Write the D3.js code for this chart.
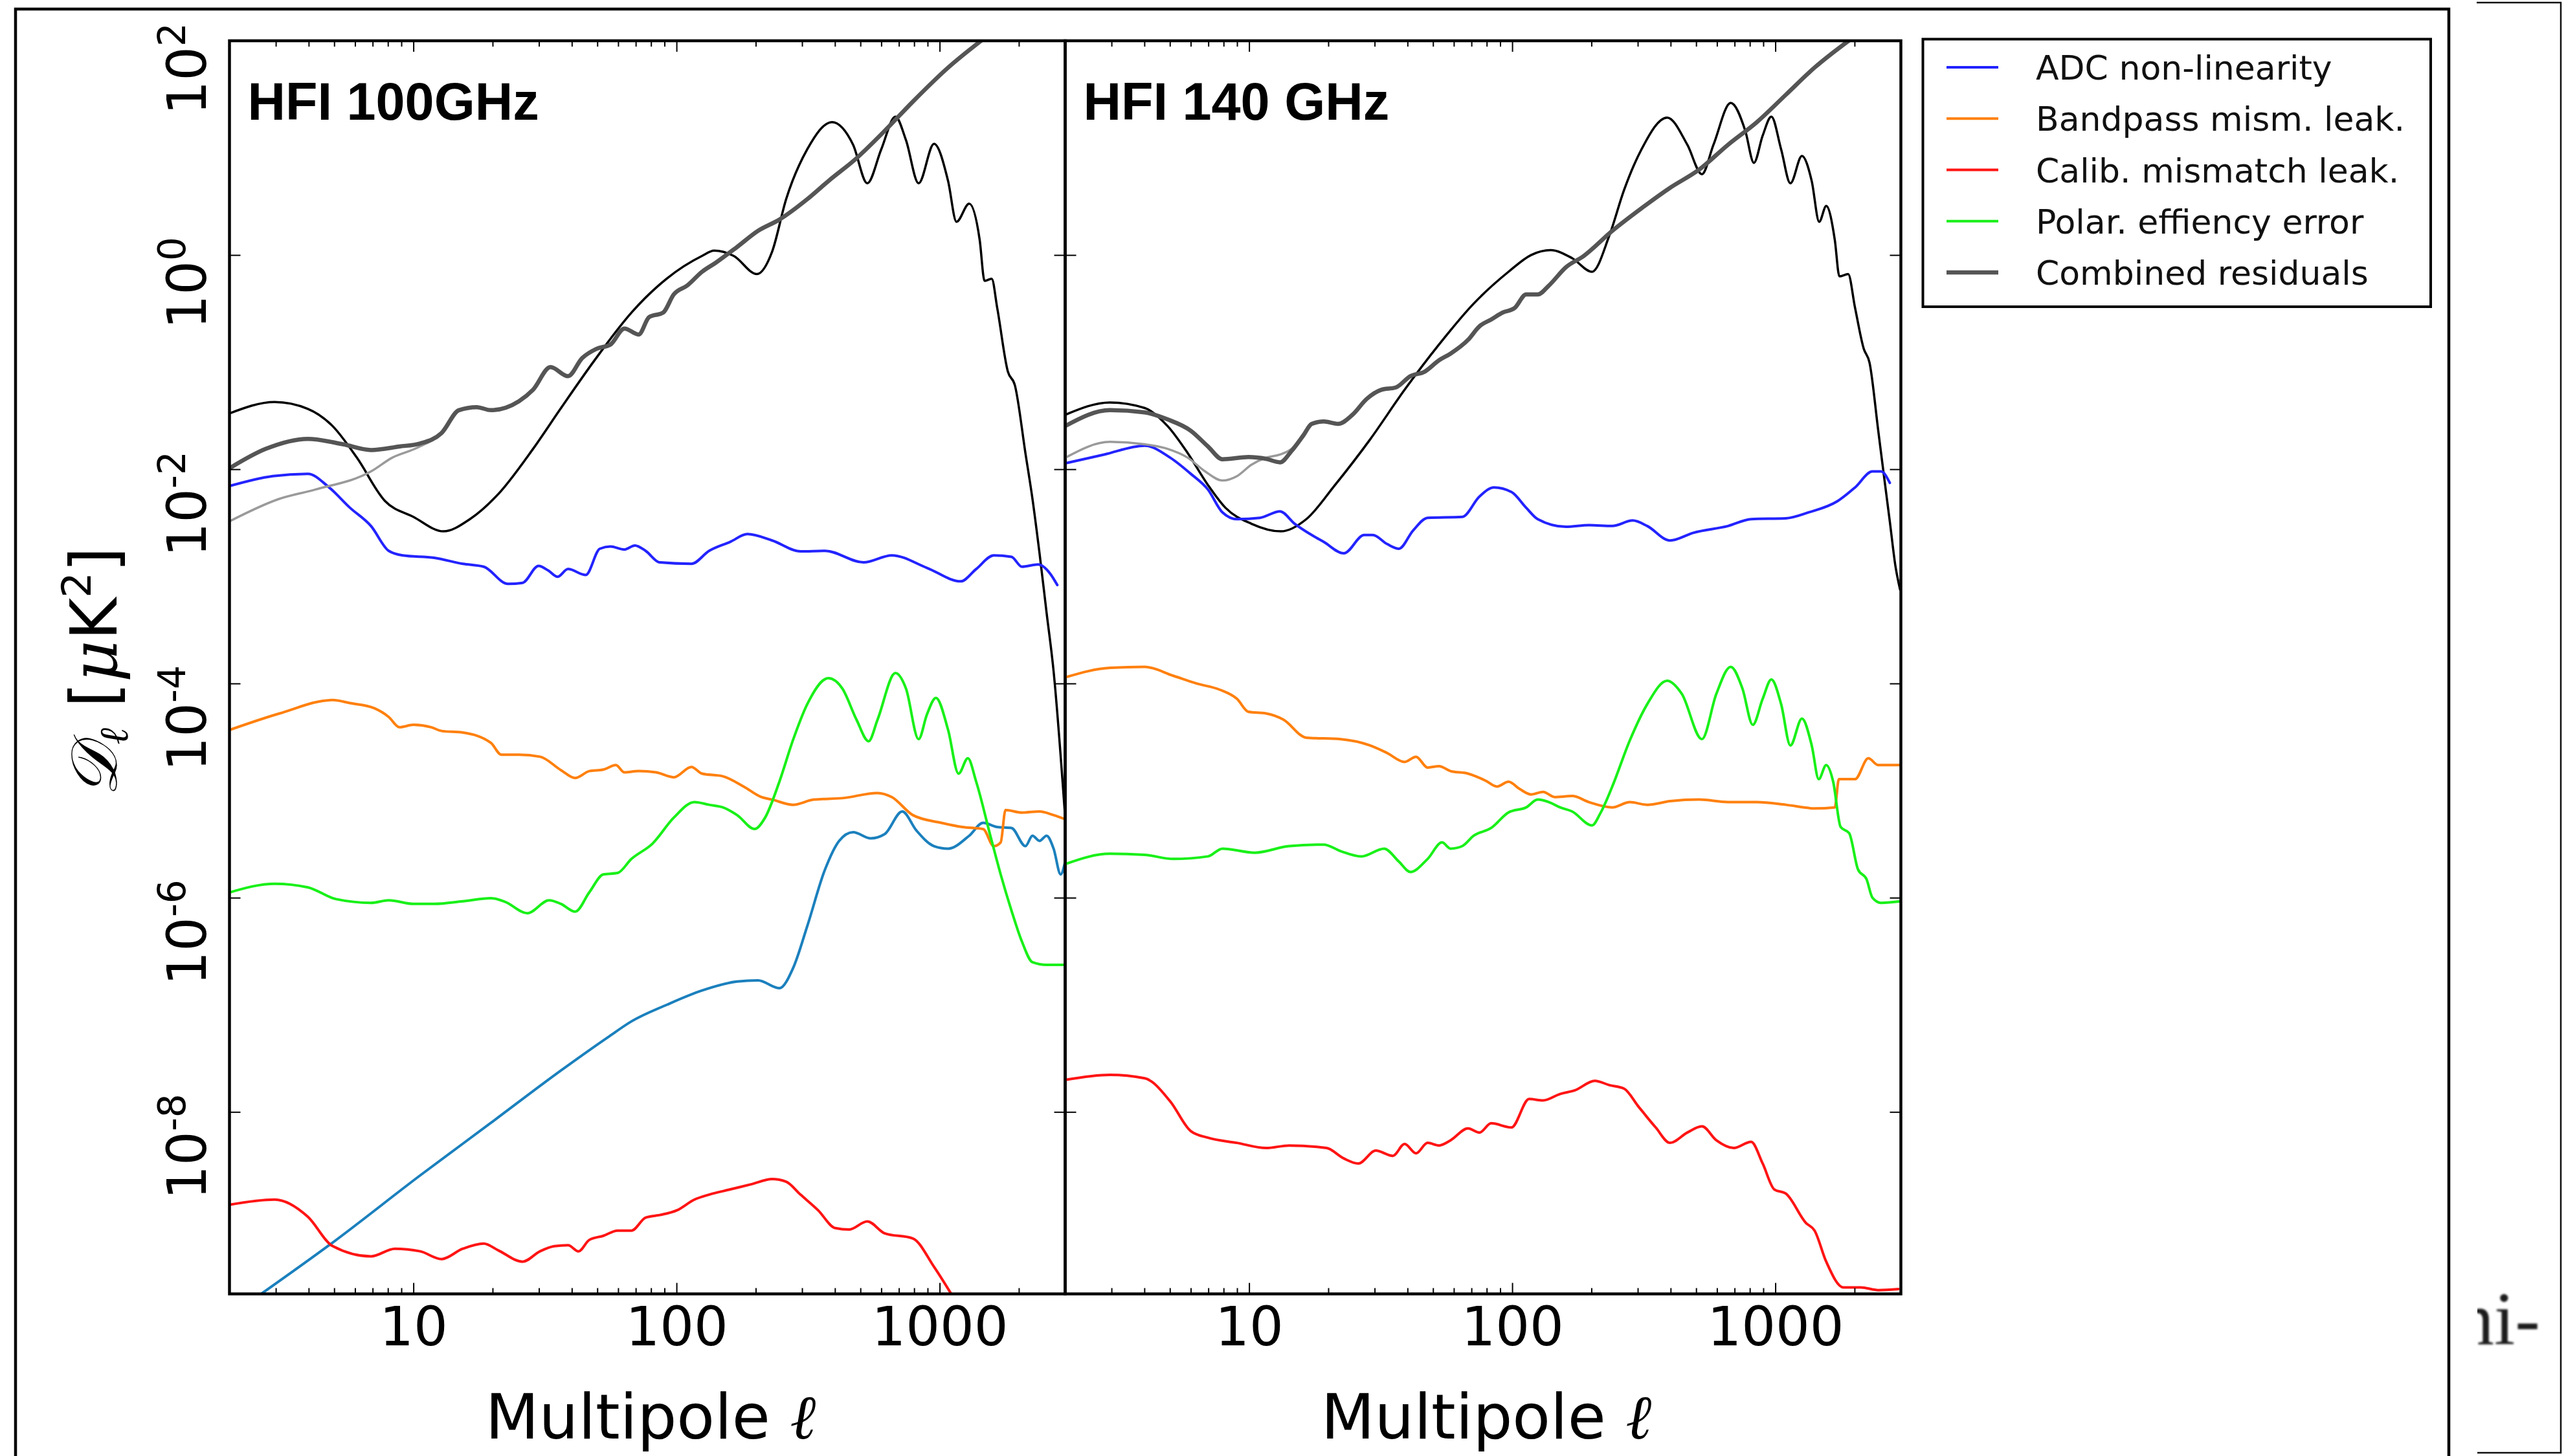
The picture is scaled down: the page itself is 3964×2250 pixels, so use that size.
<!DOCTYPE html>
<html>
<head>
<meta charset="utf-8">
<script src="https://cdn.jsdelivr.net/npm/d3@7"></script>
<style>
  html, body { margin: 0; padding: 0; background: #fff; }
  svg { display: block; }
</style>
</head>
<body>
<svg id="fig" width="3964" height="2250"></svg>
<script>
// ---------- axes ----------
const multipoleDomain = [2, 3000];
const powerDomain = [2e-10, 100];
const xTickValues = [10, 100, 1000];
const xTickLabels = ["10", "100", "1000"];
const yTickValues = [1e2, 1e0, 1e-2, 1e-4, 1e-6, 1e-8];
const yTickExponents = ["2", "0", "-2", "-4", "-6", "-8"];
const panelTitles = ["HFI 100GHz", "HFI 140 GHz"];
const xAxisTitle = "Multipole ";

// ---------- legend ----------
const legendLabels = ["ADC non-linearity", "Bandpass mism. leak.", "Calib. mismatch leak.", "Polar. effiency error", "Combined residuals"];
const legendColors = ["#2323ff", "#ff800e", "#ff1414", "#19f019", "#555555"];

// ---------- HFI 100 GHz: [multipole, D_l in uK^2] ----------
const spectrum100 = [[2,0.0332],[2.97,0.0424],[3.97,0.0366],[4.93,0.0253],[6.1,0.0128],[7.8,0.00505],[10,0.00359],[13,0.00263],[16.4,0.00342],[21,0.00585],[28.5,0.0155],[36.4,0.0373],[49.5,0.109],[67.4,0.29],[91.8,0.602],[125,0.98],[139,1.10],[165,0.98],[202,0.664],[231,1.08],[261,3.32],[314,9.7],[390,17.4],[469,10.7],[531,4.67],[600,9.7],[679,19.6],[745,11.8],[832,4.67],[952,10.9],[1077,4.9],[1159,2.04],[1295,3.01],[1420,1.38],[1482,0.573],[1577,0.60],[1656,0.319],[1817,0.0815],[1932,0.0608],[2119,0.0141],[2253,0.0053],[2397,0.00164],[2549,4.6e-4],[2711,1.3e-4],[3000,5.6e-6]];
const lensing100 = [[2.64,2.0e-10],[4.92,6.0e-10],[10.6,2.55e-9],[19.7,7.9e-9],[36.4,2.44e-8],[55,5.0e-8],[67.4,7.0e-8],[91.8,1.0e-7],[125,1.36e-7],[170,1.65e-7],[204,1.69e-7],[246,1.43e-7],[278,2.23e-7],[314,5.43e-7],[367,1.84e-6],[415,3.39e-6],[469,4.09e-6],[547,3.58e-6],[618,3.92e-6],[721,6.38e-6],[816,4.24e-6],[952,3.03e-6],[1077,2.87e-6],[1295,3.79e-6],[1464,5.0e-6],[1656,4.57e-6],[1875,4.48e-6],[2119,3.03e-6],[2253,3.79e-6],[2397,3.39e-6],[2549,3.79e-6],[2711,2.87e-6],[2884,1.65e-6],[3000,2.17e-6]];
const adc100 = [[2,0.00697],[2.92,0.00863],[3.97,0.00907],[4.78,0.00677],[5.74,0.00437],[6.9,0.00295],[8.06,0.00173],[9.1,0.00157],[12,0.00149],[15.4,0.00131],[18.5,0.00123],[22.9,0.00085],[26,0.00087],[29.9,0.00125],[32.6,0.00113],[35.3,0.00099],[38.7,0.00117],[45.2,0.00103],[51.1,0.00181],[56.1,0.0019],[63.4,0.00178],[69.5,0.00194],[76.3,0.00173],[86.3,0.00135],[114,0.00131],[133,0.00173],[160,0.0021],[186,0.00248],[231,0.00216],[296,0.00171],[367,0.00173],[514,0.00135],[658,0.00157],[895,0.0012],[1203,0.000898],[1377,0.00117],[1607,0.00157],[1875,0.00152],[2055,0.00123],[2367,0.00129],[2630,0.00106],[2800,0.00083]];
const bandpass100 = [[2,3.68e-5],[3.1,5.25e-5],[4.93,7.0e-5],[5.74,6.56e-5],[7.1,5.87e-5],[8.06,4.86e-5],[8.85,3.9e-5],[10,4.11e-5],[11.7,3.9e-5],[12.8,3.6e-5],[15.4,3.48e-5],[19.7,2.79e-5],[21.6,2.16e-5],[25.2,2.16e-5],[30.3,2.07e-5],[36.4,1.55e-5],[41.2,1.31e-5],[46.6,1.52e-5],[52.7,1.57e-5],[58.8,1.73e-5],[63.4,1.48e-5],[71.8,1.52e-5],[83.6,1.48e-5],[97.6,1.33e-5],[114,1.66e-5],[125,1.44e-5],[150,1.36e-5],[180,1.09e-5],[210,8.7e-6],[231,8.24e-6],[277,7.37e-6],[333,8.24e-6],[427,8.5e-6],[581,9.5e-6],[658,8.7e-6],[791,5.9e-6],[1014,5.0e-6],[1220,4.57e-6],[1464,4.37e-6],[1607,3.03e-6],[1706,3.28e-6],[1780,6.59e-6],[2055,6.23e-6],[2397,6.38e-6],[2711,5.9e-6],[3000,5.4e-6]];
const calib100 = [[2,1.36e-9],[2.97,1.52e-9],[3.97,1.05e-9],[4.93,5.59e-10],[6.9,4.48e-10],[8.5,5.28e-10],[10.6,5.0e-10],[12.8,4.23e-10],[15.4,5.28e-10],[18.5,5.9e-10],[21,5.11e-10],[26,4.0e-10],[30.3,5.0e-10],[34.3,5.58e-10],[38.7,5.7e-10],[42.4,5.0e-10],[46.6,6.38e-10],[52.7,6.97e-10],[59.7,7.79e-10],[67.4,7.79e-10],[76.3,1.03e-9],[86.3,1.09e-9],[100.6,1.21e-9],[117,1.52e-9],[133,1.69e-9],[160,1.89e-9],[192,2.11e-9],[231,2.36e-9],[261,2.23e-9],[296,1.69e-9],[345,1.21e-9],[401,8.23e-10],[452,7.97e-10],[531,9.5e-10],[618,7.36e-10],[791,6.59e-10],[952,3.58e-10],[1108,1.99e-10]];
const polar100 = [[2,1.12e-6],[2.97,1.35e-6],[3.97,1.25e-6],[5.08,9.7e-7],[6.9,8.95e-7],[8.06,9.46e-7],[10,8.75e-7],[12,8.75e-7],[15.4,9.25e-7],[19.7,9.89e-7],[22.3,9.15e-7],[27.1,7.16e-7],[32.8,9.46e-7],[36.4,8.75e-7],[41.2,7.4e-7],[46.6,1.12e-6],[52.7,1.65e-6],[59.7,1.7e-6],[67.4,2.3e-6],[81.1,3.2e-6],[97.6,5.58e-6],[117,7.8e-6],[133,7.37e-6],[150,6.97e-6],[170,5.9e-6],[198,4.38e-6],[217,5.58e-6],[246,1.21e-5],[277,2.95e-5],[314,6.41e-5],[378,1.12e-4],[427,8.95e-5],[483,4.6e-5],[537,2.89e-5],[581,4.6e-5],[679,1.25e-4],[745,8.95e-5],[832,3.02e-5],[895,5.14e-5],[968,7.33e-5],[1077,3.68e-5],[1180,1.44e-5],[1280,2.0e-5],[1377,1.21e-5],[1568,3.58e-6],[1706,1.65e-6],[1875,7.59e-7],[2055,3.89e-7],[2253,2.5e-7],[2549,2.36e-7],[3000,2.36e-7]];
const combinedPartial100 = [[2,0.00326],[3.1,0.0053],[4.23,0.00645],[6.9,0.00953],[8.3,0.0128],[10.3,0.0158],[12.8,0.0218],[14.9,0.0356],[17.4,0.038],[19.7,0.0356]];
const combined100 = [[2,0.0102],[2.75,0.0155],[3.97,0.0192],[5.4,0.0171],[6.9,0.0151],[8.85,0.0163],[10.6,0.0174],[12.8,0.0218],[14.9,0.0356],[17.4,0.038],[19.7,0.0356],[25.2,0.0432],[28.5,0.0552],[33.2,0.0898],[38.7,0.0739],[43.8,0.109],[49.6,0.133],[56.1,0.146],[63.4,0.206],[71.8,0.181],[78.7,0.263],[89,0.29],[97.6,0.428],[110,0.52],[125,0.697],[141,0.847],[170,1.19],[204,1.68],[246,2.14],[314,3.32],[378,4.91],[483,8.0],[618,14.4],[791,27],[1076,56],[1445,101]];

// ---------- HFI 140 GHz ----------
const spectrum140 = [[2,0.0322],[2.96,0.042],[4.01,0.0373],[4.9,0.0253],[5.85,0.0141],[6.98,0.00711],[8.13,0.00437],[10.2,0.0031],[13.2,0.00263],[16.5,0.00342],[21.2,0.00711],[28.8,0.0189],[39,0.0552],[52.7,0.146],[71.4,0.352],[96.8,0.697],[118,1.0],[140,1.11],[169,0.934],[201,0.697],[234,1.52],[266,4.03],[310,9.7],[388,19.2],[463,10.7],[526,5.68],[582,10.7],[677,26.3],[769,14.4],[829,7.25],[895,13],[966,19.6],[1052,9.7],[1141,4.67],[1262,8.4],[1375,4.9],[1468,2.04],[1561,2.87],[1683,1.38],[1752,0.632],[1891,0.664],[2010,0.319],[2168,0.133],[2280,0.099],[2461,0.0229],[2588,0.00863],[2723,0.00326],[2863,0.00123],[2980,0.00075]];
const adc140 = [[2,0.01135],[2.81,0.0137],[4.01,0.0166],[5.02,0.0128],[6.0,0.00907],[6.98,0.00645],[7.92,0.00396],[9.0,0.00342],[11.0,0.00352],[13.1,0.00404],[14.9,0.0031],[17.3,0.00243],[19.2,0.0021],[22.9,0.00164],[27.4,0.00243],[29.5,0.00243],[33.5,0.002],[37.1,0.00181],[42,0.00268],[47.7,0.00352],[64.6,0.00359],[75.1,0.00557],[85.3,0.00677],[99.3,0.00614],[113,0.00437],[125,0.00342],[160,0.0029],[196,0.00301],[240,0.00295],[287,0.00332],[326,0.00295],[398,0.00216],[488,0.00255],[661,0.00295],[809,0.00342],[1096,0.00348],[1341,0.00396],[1726,0.00505],[2010,0.00677],[2339,0.00953],[2522,0.00953],[2723,0.00746]];
const bandpass140 = [[2,1.14e-4],[2.96,1.4e-4],[4.01,1.43e-4],[5.15,1.18e-4],[6.31,1.0e-4],[7.73,8.75e-5],[9.0,7.17e-5],[9.95,5.43e-5],[11.6,5.25e-5],[13.5,4.6e-5],[16.5,3.12e-5],[22.3,3.02e-5],[28.8,2.64e-5],[33.5,2.24e-5],[39,1.85e-5],[43.1,2.07e-5],[47.7,1.64e-5],[52.7,1.69e-5],[58.3,1.52e-5],[67.9,1.44e-5],[79.1,1.24e-5],[87.5,1.09e-5],[96.8,1.21e-5],[107,1.03e-5],[118,9.2e-6],[131,9.73e-6],[145,8.7e-6],[169,8.9e-6],[196,7.8e-6],[240,6.97e-6],[280,7.8e-6],[326,7.37e-6],[398,7.96e-6],[513,8.24e-6],[661,7.8e-6],[851,7.8e-6],[1096,7.37e-6],[1410,6.82e-6],[1683,6.97e-6],[1744,1.28e-5],[2010,1.28e-5],[2256,2.0e-5],[2461,1.73e-5],[3000,1.73e-5]];
const calib140 = [[2,1.99e-8],[2.96,2.22e-8],[4.01,2.06e-8],[5.02,1.25e-8],[6.0,6.63e-9],[6.98,5.74e-9],[9.0,5.14e-9],[11.6,4.6e-9],[14.2,4.86e-9],[19.7,4.6e-9],[22.9,3.68e-9],[26,3.3e-9],[30.3,4.35e-9],[35.2,3.89e-9],[39,5.02e-9],[43.1,4.11e-9],[47.7,5.14e-9],[52.7,4.86e-9],[58.3,5.43e-9],[67.9,7.01e-9],[75.1,6.42e-9],[83.2,7.83e-9],[99.3,7.16e-9],[116,1.32e-8],[131,1.28e-8],[152,1.47e-8],[173,1.59e-8],[206,1.95e-8],[234,1.78e-8],[266,1.65e-8],[302,1.12e-8],[351,7.16e-9],[398,5.14e-9],[463,6.42e-9],[526,7.33e-9],[597,5.43e-9],[695,4.6e-9],[809,5.25e-9],[895,3.3e-9],[991,1.89e-9],[1096,1.73e-9],[1307,9.2e-10],[1410,7.8e-10],[1561,4.0e-10],[1815,2.3e-10],[2113,2.3e-10],[2461,2.17e-10],[2937,2.22e-10]];
const polar140 = [[2,2.06e-6],[2.96,2.57e-6],[4.01,2.51e-6],[5.15,2.3e-6],[6.98,2.43e-6],[7.92,2.87e-6],[10.5,2.63e-6],[14.2,3.03e-6],[19.2,3.13e-6],[22.3,2.72e-6],[26.7,2.43e-6],[32.6,2.87e-6],[37.1,2.17e-6],[41,1.74e-6],[47.7,2.3e-6],[54.1,3.28e-6],[58.3,2.87e-6],[64.6,3.03e-6],[71.4,3.79e-6],[83.2,4.48e-6],[96.8,6.24e-6],[113,6.97e-6],[125,8.24e-6],[138,7.8e-6],[152,6.97e-6],[169,6.38e-6],[201,4.73e-6],[217,6.24e-6],[240,1.09e-5],[280,2.95e-5],[326,6.41e-5],[388,1.06e-4],[441,8.01e-5],[526,3.02e-5],[597,8.01e-5],[677,1.43e-4],[750,8.95e-5],[821,4.11e-5],[895,7.17e-5],[966,1.09e-4],[1052,6.41e-5],[1141,2.64e-5],[1262,4.7e-5],[1375,2.64e-5],[1462,1.28e-5],[1561,1.73e-5],[1659,1.21e-5],[1771,4.57e-6],[1909,4.0e-6],[2061,1.84e-6],[2223,1.48e-6],[2339,1.0e-6],[2522,8.95e-7],[3000,9.25e-7]];
const combinedPartial140 = [[2,0.0128],[2.96,0.018],[4.01,0.0171],[4.9,0.0155],[5.85,0.0128],[6.81,0.00953],[7.92,0.00784],[9.0,0.00863],[10.2,0.011],[11.6,0.0128],[13.1,0.0137],[14.5,0.0155],[16.5,0.0229],[18.2,0.0279],[19.2,0.0279],[21.8,0.0265],[24.7,0.0322]];
const combined140 = [[2,0.0253],[2.96,0.0356],[4.01,0.0339],[4.9,0.0292],[6.0,0.0229],[6.98,0.0163],[7.92,0.0124],[9.95,0.013],[11.6,0.0125],[13.1,0.0116],[14.5,0.0148],[16.1,0.0208],[17.3,0.0265],[19.2,0.0279],[21.8,0.0265],[24.7,0.0322],[28,0.0454],[31.8,0.0552],[36.1,0.058],[41,0.0739],[46.5,0.0815],[52.7,0.104],[58.3,0.12],[67.9,0.161],[75.1,0.216],[83.2,0.25],[92,0.29],[102,0.319],[113,0.428],[125,0.428],[138,0.52],[160,0.769],[187,0.98],[240,1.68],[310,2.73],[398,4.24],[513,6.26],[661,10.7],[851,17.4],[1096,31.3],[1410,56.2],[1909,101]];

// ---------- figure ----------
const W = 3964, H = 2250;
const FONT = "'DejaVu Sans', 'Noto Sans', sans-serif";
const svg = d3.select("#fig");
svg.append("rect").attr("width", W).attr("height", H).attr("fill", "#fff");

const plotTop = 63, plotBottom = 1999.5;
const y = d3.scaleLog().domain(powerDomain).range([plotBottom, plotTop]);

const panels = [
  { left: 354.5, right: 1645.5, title: panelTitles[0], series: [
    { data: spectrum100, color: "#000000", width: 3.5 },
    { data: lensing100, color: "#1b80bd", width: 4 },
    { data: adc100, color: legendColors[0], width: 4 },
    { data: bandpass100, color: legendColors[1], width: 4 },
    { data: calib100, color: legendColors[2], width: 4 },
    { data: polar100, color: legendColors[3], width: 4 },
    { data: combinedPartial100, color: "#9a9a9a", width: 3.5 },
    { data: combined100, color: legendColors[4], width: 6.5 }
  ]},
  { left: 1645.5, right: 2936.5, title: panelTitles[1], series: [
    { data: spectrum140, color: "#000000", width: 3.5 },
    { data: adc140, color: legendColors[0], width: 4 },
    { data: bandpass140, color: legendColors[1], width: 4 },
    { data: calib140, color: legendColors[2], width: 4 },
    { data: polar140, color: legendColors[3], width: 4 },
    { data: combinedPartial140, color: "#9a9a9a", width: 3.5 },
    { data: combined140, color: legendColors[4], width: 6.5 }
  ]}
];

// minor multipole ticks: 2..9 of every decade inside the domain
const minorX = [];
[1, 10, 100, 1000].forEach(b => {
  for (let k = 2; k <= 9; k++) {
    const v = b * k;
    if (v >= multipoleDomain[0] && v <= multipoleDomain[1]) minorX.push(v);
  }
});

const defs = svg.append("defs");

function styleAxis(g) {
  g.select(".domain").remove();
  g.selectAll(".tick line").attr("stroke", "#000").attr("stroke-width", 2);
}

panels.forEach((p, i) => {
  const x = d3.scaleLog().domain(multipoleDomain).range([p.left, p.right]);
  const clipId = "plotclip" + i;
  defs.append("clipPath").attr("id", clipId).append("rect")
    .attr("x", p.left).attr("y", plotTop)
    .attr("width", p.right - p.left).attr("height", plotBottom - plotTop);

  const line = d3.line()
    .x(d => x(d[0])).y(d => y(d[1]))
    .curve(d3.curveMonotoneX);

  const lines = svg.append("g").attr("clip-path", `url(#${clipId})`);
  p.series.forEach(s => {
    lines.append("path")
      .attr("d", line(s.data))
      .attr("fill", "none")
      .attr("stroke", s.color)
      .attr("stroke-width", s.width)
      .attr("stroke-linejoin", "round")
      .attr("stroke-linecap", "round");
  });

  // ticks point inward on all four sides
  svg.append("g").attr("transform", `translate(0,${plotBottom})`)
    .call(d3.axisBottom(x).tickValues(minorX).tickSize(-9).tickFormat(""))
    .call(styleAxis);
  svg.append("g").attr("transform", `translate(0,${plotTop})`)
    .call(d3.axisTop(x).tickValues(minorX).tickSize(-9).tickFormat(""))
    .call(styleAxis);
  svg.append("g").attr("transform", `translate(0,${plotTop})`)
    .call(d3.axisTop(x).tickValues(xTickValues).tickSize(-17).tickFormat(""))
    .call(styleAxis);
  const xb = svg.append("g").attr("transform", `translate(0,${plotBottom})`)
    .call(d3.axisBottom(x).tickValues(xTickValues).tickSize(-17).tickPadding(21)
      .tickFormat((d, k) => xTickLabels[k]))
    .call(styleAxis);
  xb.selectAll("text").attr("fill", "#000").style("font-family", FONT).style("font-size", "83px");

  svg.append("g").attr("transform", `translate(${p.left},0)`)
    .call(d3.axisLeft(y).tickValues(yTickValues).tickSize(-17).tickFormat(""))
    .call(styleAxis);
  svg.append("g").attr("transform", `translate(${p.right},0)`)
    .call(d3.axisRight(y).tickValues(yTickValues).tickSize(-17).tickFormat(""))
    .call(styleAxis);

  // spines
  svg.append("rect")
    .attr("x", p.left).attr("y", plotTop)
    .attr("width", p.right - p.left).attr("height", plotBottom - plotTop)
    .attr("fill", "none").attr("stroke", "#000").attr("stroke-width", 4.5);

  // panel title
  svg.append("text")
    .attr("x", p.left + 28).attr("y", 185)
    .style("font-family", "'Liberation Sans', Arial, sans-serif")
    .style("font-weight", "bold").style("font-size", "81px")
    .attr("fill", "#000").text(p.title);

  // x-axis title
  const xt = svg.append("text")
    .attr("x", (p.left + p.right) / 2 + 5).attr("y", 2223)
    .attr("text-anchor", "middle")
    .style("font-family", FONT).style("font-size", "96px").attr("fill", "#000");
  xt.append("tspan").text(xAxisTitle);
  xt.append("tspan").style("font-family", "'DejaVu Serif', serif").style("font-style", "italic").text("ℓ");
});

// y tick labels (rotated, shared by both panels)
yTickValues.forEach((v, k) => {
  const t = svg.append("text")
    .attr("transform", `translate(318,${y(v) - 28}) rotate(-90)`)
    .attr("text-anchor", "end")
    .style("font-family", FONT).style("font-size", "83px").attr("fill", "#000");
  t.append("tspan").text("10");
  t.append("tspan").attr("dy", -32).style("font-size", "58px").text(yTickExponents[k]);
});

// y-axis title
const yt = svg.append("text")
  .attr("transform", "translate(180,1038) rotate(-90)")
  .attr("text-anchor", "middle")
  .style("font-family", FONT).style("font-size", "100px").attr("fill", "#000");
yt.append("tspan").style("font-family", "'DejaVu Serif', serif").style("font-style", "italic").text("𝒟");
yt.append("tspan").attr("dy", 17).style("font-size", "62px").style("font-family", "'DejaVu Serif', serif").style("font-style", "italic").text("ℓ");
yt.append("tspan").attr("dy", -17).text(" [");
yt.append("tspan").style("font-family", "'DejaVu Serif', serif").style("font-style", "italic").text("μ");
yt.append("tspan").text("K");
yt.append("tspan").attr("dy", -40).style("font-size", "62px").text("2");
yt.append("tspan").attr("dy", 40).text("]");

// legend
const lg = svg.append("g");
lg.append("rect").attr("x", 2970.5).attr("y", 60.5).attr("width", 784.5).attr("height", 413.5)
  .attr("fill", "#fff").attr("stroke", "#000").attr("stroke-width", 4);
legendLabels.forEach((name, k) => {
  const cy = 104 + k * 79.25;
  lg.append("line").attr("x1", 3007).attr("x2", 3087).attr("y1", cy).attr("y2", cy)
    .attr("stroke", legendColors[k]).attr("stroke-width", k === 4 ? 6.5 : 4);
  lg.append("text").attr("x", 3145).attr("y", cy + 19)
    .style("font-family", FONT).style("font-size", "52px").attr("fill", "#111").text(name);
});

// figure frame
svg.append("rect").attr("x", 24).attr("y", 14).attr("width", 3759).attr("height", 2300)
  .attr("fill", "none").attr("stroke", "#000").attr("stroke-width", 4.5);

// neighbouring page column
svg.append("path").attr("d", "M3826,4 H3956 V2245 H3827")
  .attr("fill", "none").attr("stroke", "#111").attr("stroke-width", 2.5);
defs.append("clipPath").attr("id", "colclip").append("rect")
  .attr("x", 3827).attr("y", 1900).attr("width", 120).attr("height", 250);
defs.append("filter").attr("id", "soft").append("feGaussianBlur").attr("stdDeviation", 1.4);
svg.append("text").attr("x", 3795).attr("y", 2077)
  .attr("clip-path", "url(#colclip)").attr("filter", "url(#soft)")
  .style("font-family", "'Liberation Serif', 'DejaVu Serif', serif").style("font-size", "116px")
  .attr("fill", "#1e1e1e").text("ni-");
</script>
</body>
</html>
